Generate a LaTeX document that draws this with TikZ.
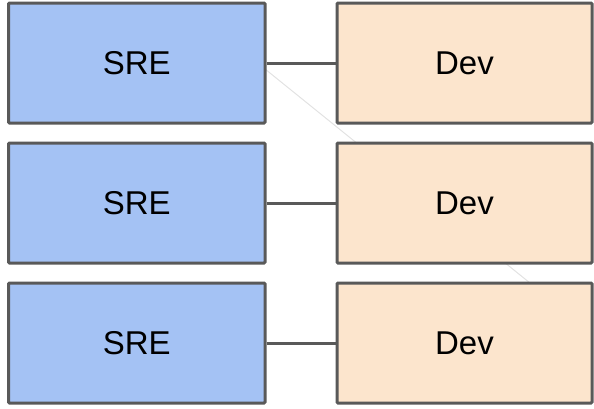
\documentclass[tikz,border=0pt]{standalone}
\usepackage{fontspec}
\setmainfont{Liberation Sans}
\usetikzlibrary{calc}
\definecolor{sreblue}{HTML}{A4C2F4}
\definecolor{devpeach}{HTML}{FCE5CD}
\definecolor{edgegray}{HTML}{595959}
\definecolor{faintgray}{HTML}{E2E2E2}
\begin{document}
\begin{tikzpicture}[x=1pt,y=-1pt,
  team/.style={draw=edgegray, line width=3pt, rounded corners=1pt,
    minimum height=120pt, inner sep=0pt,
    font=\fontsize{33}{36}\selectfont, text=black},
  srebox/.style={team, fill=sreblue, minimum width=256.5pt},
  devbox/.style={team, fill=devpeach, minimum width=255pt},
  link/.style={draw=edgegray, line width=3pt},
  faint/.style={draw=faintgray, line width=1pt}]
\useasboundingbox (0,0) rectangle (594,408);

% faint diagonal sits behind the boxes
\coordinate (dstart) at (265,69);
\coordinate (dend) at (530,283);
\draw[faint] (dstart) -- (dend);

\node[srebox] (sre1) at (136.75,63) {SRE};
\node[srebox] (sre2) at (136.75,203) {SRE};
\node[srebox] (sre3) at (136.75,343) {SRE};

\node[devbox] (dev1) at (464.5,63) {Dev};
\node[devbox] (dev2) at (464.5,203) {Dev};
\node[devbox] (dev3) at (464.5,343) {Dev};

\draw[link] (sre1.east) -- (dev1.west);
\draw[link] (sre2.east) -- (dev2.west);
\draw[link] (sre3.east) -- (dev3.west);
\end{tikzpicture}
\end{document}
